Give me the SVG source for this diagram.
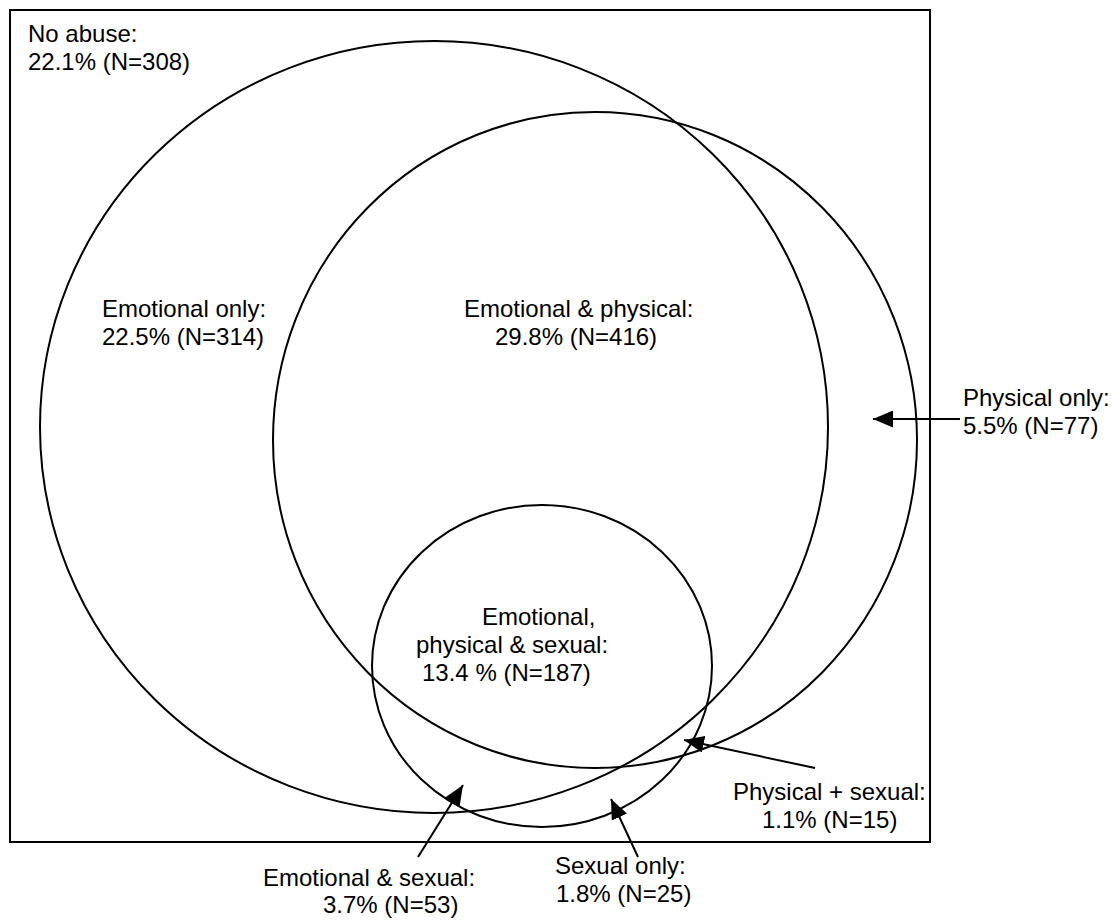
<svg xmlns="http://www.w3.org/2000/svg" width="1115" height="920" viewBox="0 0 1115 920">
<style>
.shape{fill:none;stroke:#000;stroke-width:2}
.lbl{font-family:"Liberation Sans",Arial,sans-serif;font-size:24px;fill:#000}
.conn{stroke:#000;stroke-width:2;fill:none}
</style>
<defs>
<marker id="ah" markerUnits="userSpaceOnUse" markerWidth="20" markerHeight="17" refX="20" refY="8.5" orient="auto" viewBox="0 0 20 17">
<path d="M0,0 L20,8.5 L0,17 z" fill="#000"/>
</marker>
</defs>
<rect x="0" y="0" width="1115" height="920" fill="#fff"/>
<g id="no-abuse">
<rect class="shape" x="10" y="10" width="920" height="832"/>
<text class="lbl" x="28" y="42">No abuse:</text>
<text class="lbl" x="28" y="70">22.1% (N=308)</text>
</g>
<g id="emotional">
<ellipse class="shape" cx="434" cy="427" rx="394" ry="386"/>
<text class="lbl" x="102" y="317">Emotional only:</text>
<text class="lbl" x="102" y="345">22.5% (N=314)</text>
</g>
<g id="physical">
<ellipse class="shape" cx="595" cy="440" rx="322" ry="328"/>
<text class="lbl" x="464" y="317">Emotional &amp; physical:</text>
<text class="lbl" x="495" y="345">29.8% (N=416)</text>
</g>
<g id="sexual">
<ellipse class="shape" cx="542" cy="666" rx="170" ry="161"/>
<text class="lbl" x="482" y="625">Emotional,</text>
<text class="lbl" x="416" y="653">physical &amp; sexual:</text>
<text class="lbl" x="422" y="681">13.4 % (N=187)</text>
</g>
<g id="physical-only">
<text class="lbl" x="963" y="406">Physical only:</text>
<text class="lbl" x="963" y="434">5.5% (N=77)</text>
</g>
<g id="physical-sexual">
<text class="lbl" x="733" y="800">Physical + sexual:</text>
<text class="lbl" x="762" y="828">1.1% (N=15)</text>
</g>
<g id="sexual-only">
<text class="lbl" x="555" y="874">Sexual only:</text>
<text class="lbl" x="556" y="902">1.8% (N=25)</text>
</g>
<g id="emotional-sexual">
<text class="lbl" x="263" y="886">Emotional &amp; sexual:</text>
<text class="lbl" x="323" y="913">3.7% (N=53)</text>
</g>
<g id="connectors">
<line class="conn" x1="960" y1="419" x2="873" y2="419" marker-end="url(#ah)"/>
<line class="conn" x1="815" y1="768" x2="684" y2="740" marker-end="url(#ah)"/>
<line class="conn" x1="638" y1="857" x2="611" y2="799" marker-end="url(#ah)"/>
<line class="conn" x1="418" y1="857" x2="463" y2="785" marker-end="url(#ah)"/>
</g>
</svg>
